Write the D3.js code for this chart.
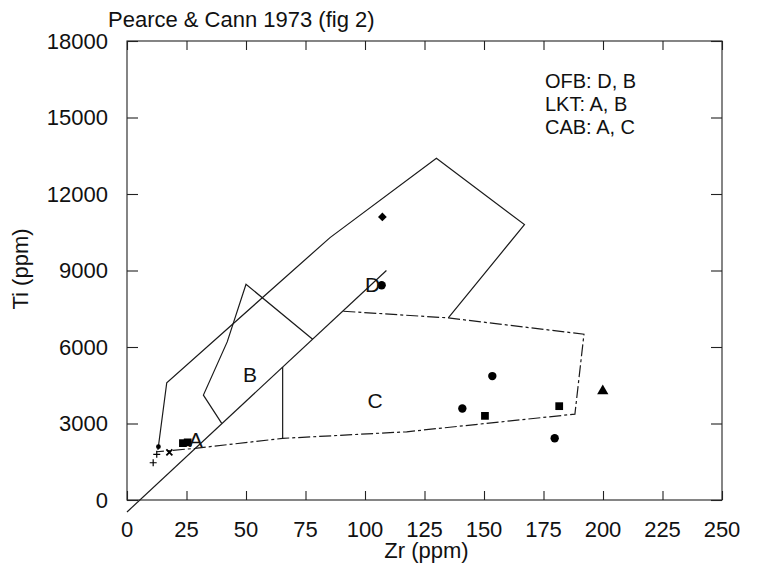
<!DOCTYPE html>
<html>
<head>
<meta charset="utf-8">
<script src="https://cdn.jsdelivr.net/npm/d3@7"></script>
<style>
    body { margin: 0; background: #fff; }
    text { font-family: "Liberation Sans", Arial, sans-serif; fill: #111; }
</style>
</head>
<body>
<svg width="762" height="563"></svg>
<script>
// tick values
const xTicks = [0, 25, 50, 75, 100, 125, 150, 175, 200, 225, 250];
const yTicks = [0, 3000, 6000, 9000, 12000, 15000, 18000];

// field boundaries (Zr, Ti)
const ofbLine = [[0, -470], [109, 9000]];
const outerField = [[13, 1960], [16.7, 4600], [85.3, 10290], [130, 13400], [167, 10800], [135, 7140]];
const fieldB = [[39.8, 3004], [32.1, 4113], [42.1, 6200], [50, 8460], [78, 6306]];
const divideAC = [[65.4, 2417], [65.4, 5213]];
const fieldC = [[90.9, 7403], [135, 7141], [192, 6502], [188.2, 3369], [117.5, 2675], [65.4, 2417], [28.6, 2025], [12.5, 1892]];

// samples
const plusPts = [[11, 1460], [12.5, 1790]];
const crossPts = [[17.8, 1870]];
const dotPts = [[13.2, 2090]];
const squarePts = [[23.5, 2230], [25.5, 2260], [150.4, 3300], [181.6, 3680]];
const circlePts = [[107, 8420], [153.5, 4860], [140.9, 3590], [179.7, 2420]];
const diamondPts = [[107.3, 11100]];
const trianglePts = [[199.9, 4270]];

const fieldLabels = [
    {text: "A", x: 28.9, y: 2088},
    {text: "B", x: 51.7, y: 4634},
    {text: "C", x: 104.2, y: 3604},
    {text: "D", x: 103.2, y: 8160}
];
const legendLines = ["OFB: D, B", "LKT: A, B", "CAB: A, C"];

function drawChart(){
    const svg = d3.select("svg");
    const left = 127, right = 722, top = 41, bottom = 500;

    const x = d3.scaleLinear().domain([0, 250]).range([left, right]);
    const y = d3.scaleLinear().domain([0, 18000]).range([bottom, top]);

    // frame with inward ticks on all sides
    svg.append("rect")
        .attr("x", left).attr("y", top)
        .attr("width", right - left).attr("height", bottom - top)
        .attr("fill", "none")
        .attr("stroke", "#222").attr("stroke-width", 1.1);

    svg.append("g")
        .attr("transform", "translate(0," + bottom + ")")
        .call(d3.axisBottom(x).tickValues(xTicks).tickSizeInner(-9).tickSizeOuter(0).tickFormat(""))
        .call(g => g.select(".domain").remove());
    svg.append("g")
        .attr("transform", "translate(0," + top + ")")
        .call(d3.axisTop(x).tickValues(xTicks).tickSizeInner(-9).tickSizeOuter(0).tickFormat(""))
        .call(g => g.select(".domain").remove());
    svg.append("g")
        .attr("transform", "translate(" + left + ",0)")
        .call(d3.axisLeft(y).tickValues(yTicks).tickSizeInner(-11).tickSizeOuter(0).tickFormat(""))
        .call(g => g.select(".domain").remove());
    svg.append("g")
        .attr("transform", "translate(" + right + ",0)")
        .call(d3.axisRight(y).tickValues(yTicks).tickSizeInner(-11).tickSizeOuter(0).tickFormat(""))
        .call(g => g.select(".domain").remove());
    svg.selectAll(".tick line").attr("stroke", "#222").attr("stroke-width", 1.1);

    // tick labels
    svg.append("g").selectAll("text")
        .data(xTicks)
        .enter().append("text")
        .attr("x", d => x(d))
        .attr("y", 537)
        .attr("text-anchor", "middle")
        .attr("font-size", 22)
        .text(d => d);

    svg.append("g").selectAll("text")
        .data(yTicks)
        .enter().append("text")
        .attr("x", 108)
        .attr("y", d => y(d))
        .attr("dy", "0.35em")
        .attr("text-anchor", "end")
        .attr("font-size", 22)
        .text(d => d);

    // titles
    svg.append("text")
        .attr("x", 108).attr("y", 27)
        .attr("font-size", 22)
        .text("Pearce & Cann 1973 (fig 2)");

    svg.append("text")
        .attr("x", (left + right) / 2 + 2).attr("y", 558)
        .attr("text-anchor", "middle")
        .attr("font-size", 22)
        .text("Zr (ppm)");

    svg.append("text")
        .attr("transform", "translate(28,269) rotate(-90)")
        .attr("text-anchor", "middle")
        .attr("font-size", 22)
        .text("Ti (ppm)");

    // field lines
    const line = d3.line().x(d => x(d[0])).y(d => y(d[1]));
    const lines = svg.append("g").attr("fill", "none").attr("stroke", "#1a1a1a").attr("stroke-width", 1.2);
    [ofbLine, outerField, fieldB, divideAC].forEach(function (pts) {
        lines.append("path").attr("d", line(pts));
    });
    lines.append("path")
        .attr("d", line(fieldC))
        .attr("stroke-dasharray", "12,3,3,3");

    // samples
    const pts = svg.append("g").attr("fill", "#000");
    const at = d => "translate(" + x(d[0]) + "," + y(d[1]) + ")";
    pts.selectAll(".sq").data(squarePts).enter().append("path")
        .attr("transform", at)
        .attr("d", d3.symbol().type(d3.symbolSquare).size(60));
    pts.selectAll(".ci").data(circlePts).enter().append("path")
        .attr("transform", at)
        .attr("d", d3.symbol().type(d3.symbolCircle).size(55));
    pts.selectAll(".dt").data(dotPts).enter().append("path")
        .attr("transform", at)
        .attr("d", d3.symbol().type(d3.symbolCircle).size(18));
    pts.selectAll(".di").data(diamondPts).enter().append("path")
        .attr("transform", d => at(d) + " rotate(45)")
        .attr("d", d3.symbol().type(d3.symbolSquare).size(38));
    pts.selectAll(".tr").data(trianglePts).enter().append("path")
        .attr("transform", at)
        .attr("d", d3.symbol().type(d3.symbolTriangle).size(55));
    pts.selectAll(".pl").data(plusPts).enter().append("path")
        .attr("transform", at)
        .attr("d", "M-3.5,0H3.5M0,-3.5V3.5")
        .attr("stroke", "#000").attr("stroke-width", 1.2);
    pts.selectAll(".cr").data(crossPts).enter().append("path")
        .attr("transform", at)
        .attr("d", "M-3,-3L3,3M-3,3L3,-3")
        .attr("stroke", "#000").attr("stroke-width", 1.8);

    // field letters
    svg.append("g").selectAll("text")
        .data(fieldLabels)
        .enter().append("text")
        .attr("x", d => x(d.x))
        .attr("y", d => y(d.y))
        .attr("text-anchor", "middle")
        .attr("font-size", 21)
        .text(d => d.text);

    // legend of tectonic settings
    svg.append("g").selectAll("text")
        .data(legendLines)
        .enter().append("text")
        .attr("x", 545)
        .attr("y", (d, i) => 88 + i * 23)
        .attr("font-size", 20)
        .text(d => d);
}

drawChart();
</script>
</body>
</html>
